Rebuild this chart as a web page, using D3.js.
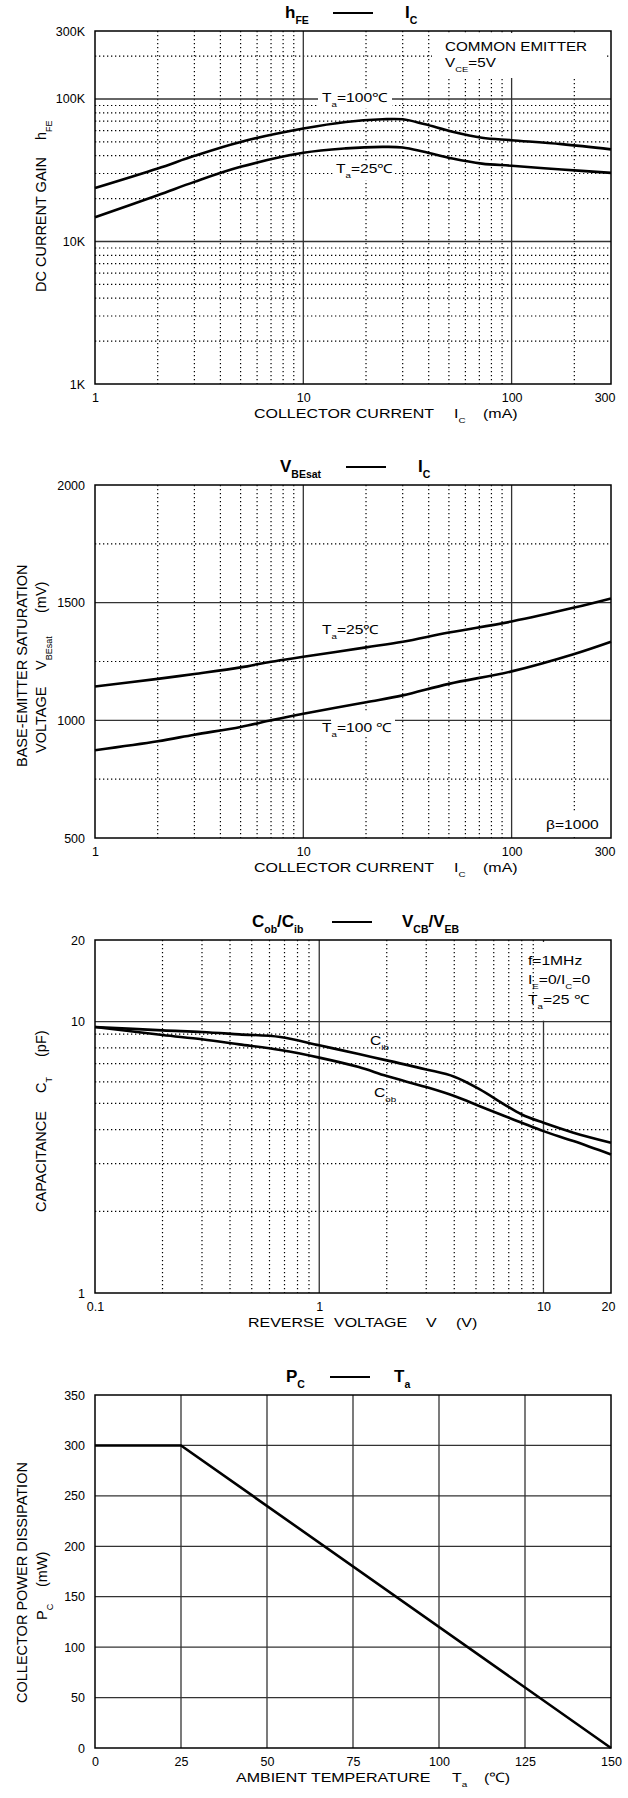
<!DOCTYPE html>
<meta charset="utf-8">
<style>
  body { margin: 0; background: #fff; }
  svg { font-family: "Liberation Sans", Arial, sans-serif; }
  .dot { stroke: #000; stroke-width: 1.2; stroke-dasharray: 1.3,2.7; }
  .major { stroke: #333; stroke-width: 1.3; }
  .frame { fill: none; stroke: #000; stroke-width: 1.5; }
  .curve { fill: none; stroke: #000; stroke-width: 2.6; }
  .dash { stroke: #000; stroke-width: 2; }
</style>
<script src="https://d3js.org/d3.v7.min.js"></script>
<body>
<script>

// hFE vs Ic
var hfeCurrent = [1, 2, 3, 5, 10, 16, 24, 30, 38, 52, 72, 100, 174, 300];
var hfeTa100 = [23700, 32500, 39900, 50000, 62000, 69000, 72000, 72000, 66700, 58900, 53500, 51400, 48200, 44300];
var hfeTa25 = [14800, 21100, 26200, 33400, 41900, 45000, 46100, 45700, 42600, 38200, 35200, 34000, 32000, 30300];

// VBEsat vs Ic
var vbeCurrent = [1, 2, 3, 5, 7, 10, 20, 30, 50, 100, 200, 300];
var vbeTa25 = [1144, 1176, 1197, 1225, 1249, 1270, 1310, 1334, 1373, 1420, 1479, 1518];
var vbeTa100 = [873, 911, 939, 972, 1000, 1028, 1077, 1106, 1155, 1208, 1282, 1334];

// Cob / Cib vs reverse voltage
var capVoltage = [0.1, 0.2, 0.3, 0.44, 0.67, 1, 1.5, 2, 3, 4, 5.2, 6.7, 8, 10, 13.6, 20];
var capCib = [9.56, 9.29, 9.16, 8.98, 8.78, 8.18, 7.6, 7.2, 6.67, 6.27, 5.63, 4.95, 4.55, 4.24, 3.9, 3.58];
var capCob = [9.56, 8.93, 8.61, 8.25, 7.86, 7.37, 6.8, 6.3, 5.74, 5.32, 4.88, 4.49, 4.24, 3.95, 3.63, 3.24];

// Pc vs Ta
var pcTemp = [0, 25, 150];
var pcPower = [300, 300, 0];

// tick labels
var icTicks = [1, 10, 100, 300];
var hfeTicks = [1000, 10000, 100000, 300000];
var vbeTicks = [500, 1000, 1500, 2000];
var vTicks = [0.1, 1, 10, 20];
var capTicks = [1, 10, 20];
var tempTicks = [0, 25, 50, 75, 100, 125, 150];
var pcTicks = [0, 50, 100, 150, 200, 250, 300, 350];

var left = 95, right = 611, plotH = 353;
var tops = [31, 485, 940, 1395];

var svg = d3.select("body").append("svg")
    .attr("width", 628)
    .attr("height", 1798);

// 2..9 multiples of each decade inside (lo, hi)
function minors(lo, hi) {
  var out = [];
  for (var e = Math.floor(Math.log10(lo)); e <= Math.ceil(Math.log10(hi)); e++) {
    for (var k = 2; k <= 9; k++) {
      var v = +(k * Math.pow(10, e)).toPrecision(6);
      if (v > lo * 1.0001 && v < hi * 0.9999) out.push(v);
    }
  }
  return out;
}

function vlines(x, vals, y0, y1, cls) {
  svg.append("g").selectAll("line").data(vals).enter().append("line")
    .attr("class", cls)
    .attr("x1", function(d) { return x(d); }).attr("x2", function(d) { return x(d); })
    .attr("y1", y0).attr("y2", y1);
}

function hlines(y, vals, cls) {
  svg.append("g").selectAll("line").data(vals).enter().append("line")
    .attr("class", cls)
    .attr("x1", left).attr("x2", right)
    .attr("y1", function(d) { return y(d); }).attr("y2", function(d) { return y(d); });
}

function whiteBox(x, y, w, h) {
  svg.append("rect").attr("x", x).attr("y", y).attr("width", w).attr("height", h).attr("fill", "#fff");
}

function frame(top) {
  svg.append("rect").attr("class", "frame")
    .attr("x", left).attr("y", top).attr("width", right - left).attr("height", plotH);
}

function curve(x, y, xs, ys, w, straight) {
  var line = d3.line()
    .x(function(d) { return x(d[0]); })
    .y(function(d) { return y(d[1]); })
    .curve(straight ? d3.curveLinear : d3.curveCatmullRom.alpha(0.5));
  svg.append("path").attr("class", "curve")
    .attr("stroke-width", w || null)
    .attr("d", line(d3.zip(xs, ys)));
}

// text with subscripts; parts: "normal" or ["sub"]
function label(x, y, parts, o) {
  o = o || {};
  var size = o.size || 13;
  var sub = o.sub || size * 0.62;
  var shift = o.shift || size * 0.42;
  var tf = "translate(" + x + "," + y + ")";
  if (o.rot) tf += " rotate(-90)";
  if (o.sx) tf += " scale(" + o.sx + ",1)";
  var t = svg.append("text")
    .attr("transform", tf)
    .attr("font-size", size)
    .attr("font-weight", o.bold ? "bold" : null)
    .attr("text-anchor", o.anchor || "start");
  var low = false;
  parts.forEach(function(p) {
    var isSub = Array.isArray(p);
    var ts = t.append("tspan").text(isSub ? p[0] : p);
    if (isSub) {
      ts.attr("font-size", sub);
      if (!low) ts.attr("dy", shift);
      low = true;
    } else if (low) {
      ts.attr("dy", -shift);
      low = false;
    }
  });
  return t;
}

function title(top, leftParts, lx, dx0, dx1, rightParts, rx) {
  var base = top - 13;
  label(lx, base, leftParts, {size: 17, bold: true, sub: 10.5, shift: 6});
  svg.append("line").attr("class", "dash")
    .attr("x1", dx0).attr("x2", dx1).attr("y1", base - 5).attr("y2", base - 5);
  label(rx, base, rightParts, {size: 17, bold: true, sub: 10.5, shift: 6});
}

function xAxis(scale, ticks, fmt, bottom, endLast) {
  var a = svg.append("g")
    .attr("transform", "translate(0," + bottom + ")")
    .call(d3.axisBottom(scale).tickValues(ticks).tickFormat(fmt).tickSize(0).tickPadding(9));
  a.attr("font-family", null).attr("font-size", null);
  a.select(".domain").remove();
  a.selectAll("text").attr("font-size", 12.5).attr("fill", "#000");
  if (endLast) {
    a.selectAll("text").filter(function(d) { return d === ticks[ticks.length - 1]; })
      .attr("text-anchor", "end").attr("x", 4);
  }
}

function yAxis(scale, ticks, fmt) {
  var a = svg.append("g")
    .attr("transform", "translate(" + left + ",0)")
    .call(d3.axisLeft(scale).tickValues(ticks).tickFormat(fmt).tickSize(0).tickPadding(10));
  a.attr("font-family", null).attr("font-size", null);
  a.select(".domain").remove();
  a.selectAll("text").attr("font-size", 12.5).attr("fill", "#000");
}

var small = {size: 12.5, sx: 1.25};
var axisT = {size: 13, sx: 1.23};
var yT = {size: 14.5, rot: true};

// ---------- chart 1: hFE - Ic ----------
var t1 = tops[0], b1 = t1 + plotH;
var x1 = d3.scaleLog().domain([1, 300]).range([left, right]);
var y1 = d3.scaleLog().domain([1000, 300000]).range([b1, t1]);

vlines(x1, minors(1, 300), t1, b1, "dot");
hlines(y1, minors(1000, 300000), "dot");
vlines(x1, [10, 100], t1, b1, "major");
hlines(y1, [10000, 100000], "major");
whiteBox(432, t1 + 2, 174, 45);
whiteBox(318, 91, 74, 17);
whiteBox(333, 162, 61, 18);

curve(x1, y1, hfeCurrent, hfeTa100);
curve(x1, y1, hfeCurrent, hfeTa25);

label(445, 51, ["COMMON EMITTER"], {size: 12, sx: 1.27});
label(445, 67, ["V", ["CE"], "=5V"], {size: 12, sx: 1.27});
label(322, 102, ["T", ["a"], "=100℃"], small);
label(336, 173, ["T", ["a"], "=25℃"], small);

frame(t1);
title(t1, ["h", ["FE"]], 285, 333, 373, ["I", ["C"]], 405);
xAxis(x1, icTicks, function(d) { return d; }, b1, true);
yAxis(y1, hfeTicks, function(d) { return (d / 1000) + "K"; });
label(254, b1 + 34, ["COLLECTOR CURRENT"], axisT);
label(454, b1 + 34, ["I", ["C"]], axisT);
label(483, b1 + 34, ["(mA)"], axisT);
label(46, 292, ["DC CURRENT GAIN"], yT);
label(46, 140, ["h", ["FE"]], yT);

// ---------- chart 2: VBEsat - Ic ----------
var t2 = tops[1], b2 = t2 + plotH;
var x2 = d3.scaleLog().domain([1, 300]).range([left, right]);
var y2 = d3.scaleLinear().domain([500, 2000]).range([b2, t2]);

vlines(x2, minors(1, 300), t2, b2, "dot");
hlines(y2, [750, 1250, 1750], "dot");
vlines(x2, [10, 100], t2, b2, "major");
hlines(y2, [1000, 1500], "major");
whiteBox(331, 713, 64, 24);
whiteBox(540, 811, 66, 24);

curve(x2, y2, vbeCurrent, vbeTa25);
curve(x2, y2, vbeCurrent, vbeTa100);

label(322, 634, ["T", ["a"], "=25℃"], small);
label(322, 732, ["T", ["a"], "=100 ℃"], small);
label(546, 829, ["β=1000"], small);

frame(t2);
title(t2, ["V", ["BEsat"]], 280, 346, 386, ["I", ["C"]], 418);
xAxis(x2, icTicks, function(d) { return d; }, b2, true);
yAxis(y2, vbeTicks, function(d) { return d; });
label(254, b2 + 34, ["COLLECTOR CURRENT"], axisT);
label(454, b2 + 34, ["I", ["C"]], axisT);
label(483, b2 + 34, ["(mA)"], axisT);
label(27, 767, ["BASE-EMITTER SATURATION"], yT);
label(46, 753, ["VOLTAGE"], yT);
label(46, 670, ["V", ["BEsat"]], yT);
label(46, 613, ["(mV)"], yT);

// ---------- chart 3: Cob/Cib - VCB/VEB ----------
var t3 = tops[2], b3 = t3 + plotH;
var x3 = d3.scaleLog().domain([0.1, 20]).range([left, right]);
var y3 = d3.scaleLog().domain([1, 20]).range([b3, t3]);

vlines(x3, minors(0.1, 20), t3, b3, "dot");
hlines(y3, minors(1, 20), "dot");
vlines(x3, [1, 10], t3, b3, "major");
hlines(y3, [10], "major");
whiteBox(536, t3 + 2, 73, y3(10) - t3 - 3);

curve(x3, y3, capVoltage, capCib);
curve(x3, y3, capVoltage, capCob);

label(528, 965, ["f=1MHz"], small);
label(528, 984, ["I", ["E"], "=0/I", ["C"], "=0"], small);
label(528, 1004, ["T", ["a"], "=25 ℃"], small);
label(370, 1045, ["C", ["ib"]], small);
label(374, 1097, ["C", ["ob"]], small);

frame(t3);
title(t3, ["C", ["ob"], "/C", ["ib"]], 252, 332, 372, ["V", ["CB"], "/V", ["EB"]], 402);
xAxis(x3, vTicks, function(d) { return d; }, b3, true);
yAxis(y3, capTicks, function(d) { return d; });
label(248, b3 + 34, ["REVERSE"], axisT);
label(334, b3 + 34, ["VOLTAGE"], axisT);
label(426, b3 + 34, ["V"], axisT);
label(456, b3 + 34, ["(V)"], axisT);
label(46, 1212, ["CAPACITANCE"], yT);
label(46, 1093, ["C", ["T"]], yT);
label(46, 1057, ["(pF)"], yT);

// ---------- chart 4: Pc - Ta ----------
var t4 = tops[3], b4 = t4 + plotH;
var x4 = d3.scaleLinear().domain([0, 150]).range([left, right]);
var y4 = d3.scaleLinear().domain([0, 350]).range([b4, t4]);

vlines(x4, [25, 50, 75, 100, 125], t4, b4, "major");
hlines(y4, [50, 100, 150, 200, 250, 300], "major");
curve(x4, y4, pcTemp, pcPower, 2.4, true);

frame(t4);
title(t4, ["P", ["C"]], 286, 330, 370, ["T", ["a"]], 394);
xAxis(x4, tempTicks, function(d) { return d; }, b4, false);
yAxis(y4, pcTicks, function(d) { return d; });
label(236, b4 + 34, ["AMBIENT TEMPERATURE"], axisT);
label(452, b4 + 34, ["T", ["a"]], axisT);
label(484, b4 + 34, ["(℃)"], axisT);
label(27, 1703, ["COLLECTOR POWER DISSIPATION"], yT);
label(47, 1620, ["P", ["C"]], yT);
label(47, 1587, ["(mW)"], yT);

</script>
</body>
